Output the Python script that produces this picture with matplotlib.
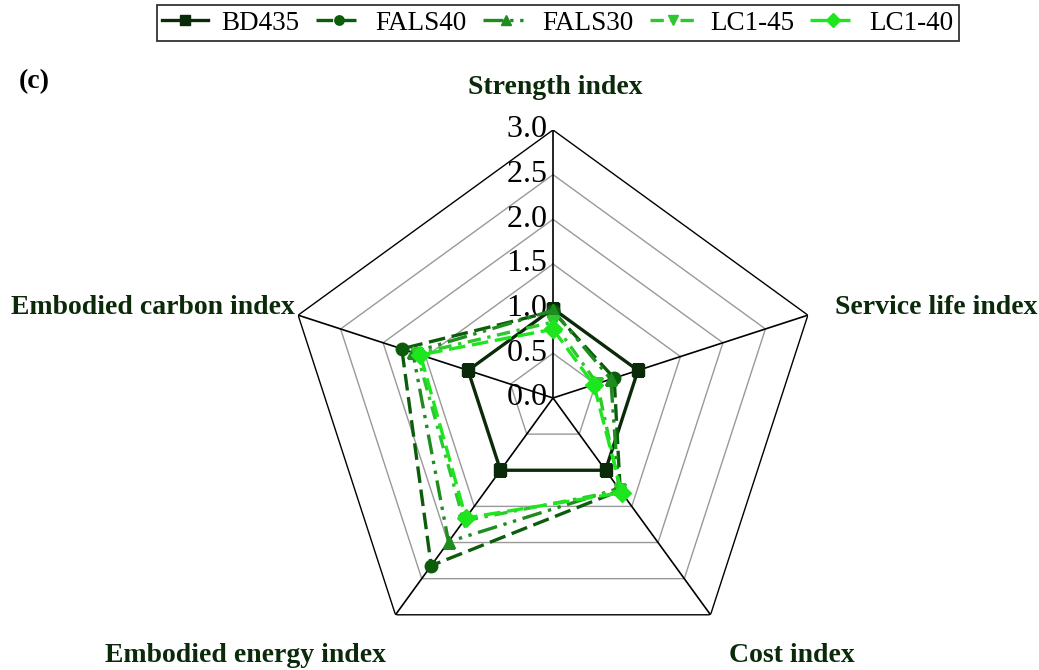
import numpy as np
import matplotlib.pyplot as plt

# index values per mix, order: strength, service life, cost, embodied energy, embodied carbon
axis_names = ["Strength index", "Service life index", "Cost index",
              "Embodied energy index", "Embodied carbon index"]
mixes = ["BD435", "FALS40", "FALS30", "LC1-45", "LC1-40"]
BD435 = [1.00, 1.00, 1.00, 1.00, 1.00]
FALS40 = [0.97, 0.72, 1.28, 2.32, 1.78]
FALS30 = [0.98, 0.68, 1.25, 1.99, 1.65]
LC1_45 = [0.85, 0.52, 1.28, 1.70, 1.60]
LC1_40 = [0.77, 0.48, 1.31, 1.66, 1.56]
r_ticks = [0.0, 0.5, 1.0, 1.5, 2.0, 2.5, 3.0]

series = [BD435, FALS40, FALS30, LC1_45, LC1_40]
colors = ["#0a2a0a", "#0b5c0b", "#1e8c1e", "#2ec82e", "#1ee61e"]
markers = ["s", "o", "^", "v", "D"]
styles = ["-", (0, (5, 2)), (0, (6, 2, 1, 2, 1, 2)), (0, (4, 2, 1, 2)), (0, (5, 2))]

serif = ["Liberation Serif", "DejaVu Serif"]
plt.rcParams["font.family"] = serif

fig = plt.figure(figsize=(10.39, 6.70), dpi=100)
ax = fig.add_axes([0.2743, 0.006, 0.5159, 0.80], projection="polar")
ax.set_theta_offset(np.pi / 2)
ax.set_theta_direction(-1)
ax.set_ylim(0, 3.0)

n = len(axis_names)
theta = np.linspace(0, 2 * np.pi, n, endpoint=False)
theta_c = np.append(theta, theta[0])

ax.grid(False)
ax.spines["polar"].set_visible(False)
ax.set_xticks([])
ax.set_yticks([])

# pentagon grid
for r in r_ticks[1:]:
    ax.plot(theta_c, [r] * (n + 1), color="black" if r == 3.0 else "#999999",
            lw=1.0, zorder=1)
for t in theta:
    ax.plot([t, t], [0, 3.0], color="black", lw=1.2, zorder=1)

for r in r_ticks:
    ax.text(0, r, "%.1f" % r + "\u2009", ha="right", va="center", fontsize=23, zorder=2)

for vals, name, c, m, ls in zip(series, mixes, colors, markers, styles):
    v = np.append(vals, vals[0])
    ax.plot(theta_c, v, color=c, ls=ls, lw=2.4, marker=m, markersize=9,
            label=name, zorder=3)

# axis titles
title_pos = [(555, 87), (936, 308), (792, 655), (245, 655), (153, 308)]
for name, (px, py) in zip(axis_names, title_pos):
    fig.text(px / 1039, 1 - py / 670, name, ha="center", va="center",
             fontsize=20, fontweight="bold", color="#0a2a0a")
fig.text(34 / 1039, 1 - 82 / 670, "(c)", ha="center", va="center",
         fontsize=20, fontweight="bold")

leg = fig.legend(loc="upper center", bbox_to_anchor=(558 / 1039, 1.0), ncol=5,
                 fontsize=19.5, frameon=True, fancybox=False, edgecolor="black",
                 handlelength=1.7, handletextpad=0.5, columnspacing=0.6,
                 borderpad=0.2, borderaxespad=0.2, markerscale=0.75)
leg.get_frame().set_linewidth(1.3)

fig.savefig("out.png", dpi=100)
